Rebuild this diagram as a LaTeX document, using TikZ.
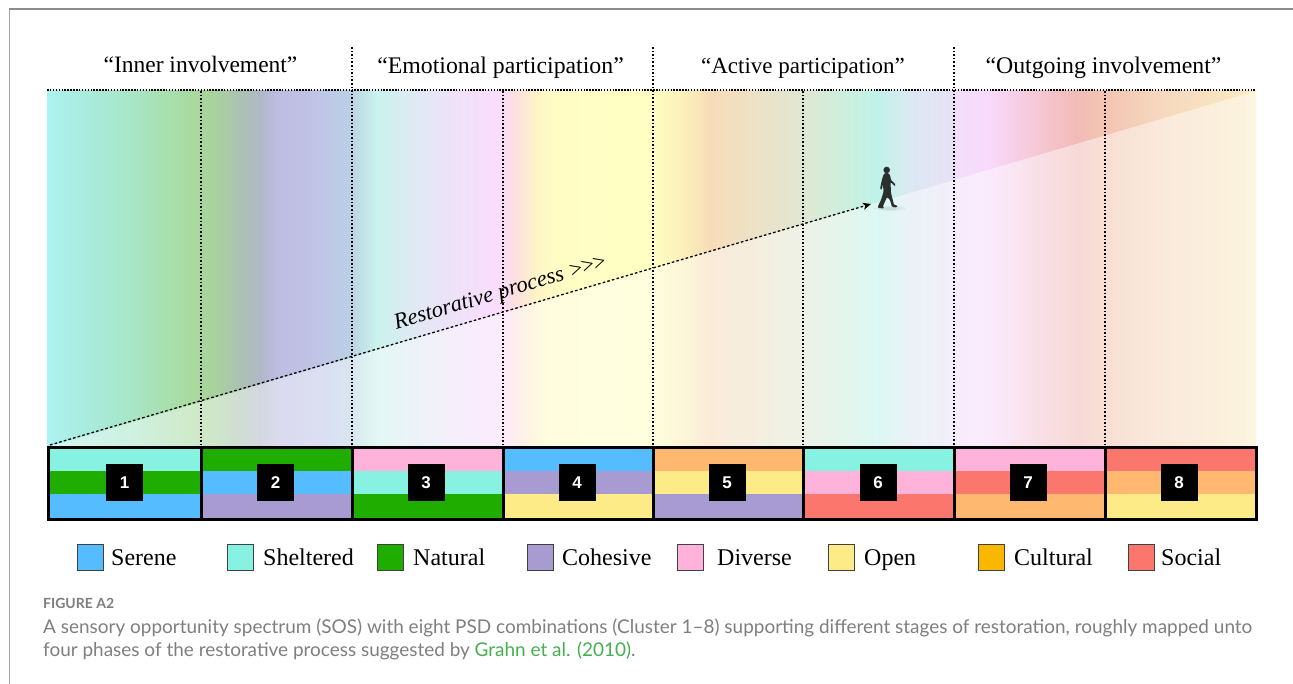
\documentclass[tikz,border=0pt]{standalone}
\usepackage{fontspec}
\setmainfont{Liberation Serif}
\newfontfamily\capfont{Lato}
\newfontfamily\numfont{Liberation Sans}
\usetikzlibrary{arrows.meta}
\definecolor{c01}{HTML}{AEF1F2}\definecolor{c02}{HTML}{A8EDE0}\definecolor{c03}{HTML}{A7E6C9}
\definecolor{c04}{HTML}{A9DB9F}\definecolor{c05}{HTML}{A7D69A}\definecolor{c06}{HTML}{A8D39D}
\definecolor{c07}{HTML}{ACC2B0}\definecolor{c08}{HTML}{B0B8C8}\definecolor{c09}{HTML}{BEBCE2}
\definecolor{c10}{HTML}{C0C4E6}\definecolor{c11}{HTML}{BACFE6}\definecolor{c12}{HTML}{BEE0E6}
\definecolor{c13}{HTML}{CAF2EC}\definecolor{c14}{HTML}{E0E9F4}\definecolor{c15}{HTML}{EFE2F9}
\definecolor{c16}{HTML}{FADCFD}\definecolor{c17}{HTML}{FDDFE0}\definecolor{c18}{HTML}{FEF3C8}
\definecolor{c19}{HTML}{FFFDC4}\definecolor{c20}{HTML}{FFFFC3}\definecolor{c21}{HTML}{FBEDB9}
\definecolor{c22}{HTML}{F8DCB9}\definecolor{c23}{HTML}{E1E7D3}\definecolor{c24}{HTML}{CFEEDC}
\definecolor{c25}{HTML}{BFF3E9}\definecolor{c26}{HTML}{DCE8F2}\definecolor{c27}{HTML}{E6E2F5}
\definecolor{c28}{HTML}{F3DEFB}\definecolor{c29}{HTML}{F8DAFC}\definecolor{c30}{HTML}{F6CCDF}
\definecolor{c31}{HTML}{F2BBB8}\definecolor{c32}{HTML}{F3C4B2}\definecolor{c33}{HTML}{F6D8BE}
\definecolor{c34}{HTML}{F9E8C2}\definecolor{c35}{HTML}{FAEEC8}
\pgfdeclarehorizontalshading{spectrum}{100bp}{
color(0bp)=(c01);color(25bp)=(c01);color(26.36bp)=(c02);color(28.31bp)=(c03);color(30.91bp)=(c04);
color(31.41bp)=(c05);color(31.91bp)=(c06);color(32.9bp)=(c07);color(33.85bp)=(c08);color(34.51bp)=(c09);
color(36.17bp)=(c10);color(37.45bp)=(c11);color(37.94bp)=(c12);color(38.61bp)=(c13);color(40.22bp)=(c14);
color(41.87bp)=(c15);color(43.73bp)=(c16);color(44.35bp)=(c17);color(45.18bp)=(c18);color(46.01bp)=(c19);
color(49.94bp)=(c20);color(51.51bp)=(c21);color(52.38bp)=(c22);color(56.18bp)=(c23);color(57.8bp)=(c24);
color(59.28bp)=(c25);color(60.77bp)=(c26);color(62.26bp)=(c27);color(62.76bp)=(c28);color(63.92bp)=(c29);
color(65.4bp)=(c30);color(67.55bp)=(c31);color(68.71bp)=(c32);color(71.03bp)=(c33);color(74.34bp)=(c34);
color(75bp)=(c35);color(100bp)=(c35)}
\definecolor{serene}{HTML}{55BCFF}
\definecolor{sheltered}{HTML}{88F2E2}
\definecolor{natural}{HTML}{1FAE00}
\definecolor{cohesive}{HTML}{A79BD1}
\definecolor{diverse}{HTML}{FFB2DA}
\definecolor{open}{HTML}{FCEB87}
\definecolor{cultural}{HTML}{F9B700}
\definecolor{orangeband}{HTML}{FFB870}
\definecolor{social}{HTML}{FB766D}
\definecolor{frameline}{HTML}{8C8C8C}
\definecolor{frameleft}{HTML}{A6A6A6}
\definecolor{captext}{HTML}{7F7F7F}
\definecolor{linkgreen}{HTML}{45B04F}
\definecolor{walkerink}{HTML}{2A2F2E}
\tikzset{
  phase/.style={inner sep=0pt, anchor=base},
  dotline/.style={line width=1.3pt, dash pattern=on 1.7pt off 1.9pt},
  dotfine/.style={line width=1.4pt, dash pattern=on 1.5pt off 1.4pt},
  clusterbox/.style={draw=black, line width=3pt, fill=none},
  numbox/.style={fill=black, minimum width=37pt, minimum height=37pt, inner sep=0pt, text=white, font=\numfont\bfseries\fontsize{17}{20}\selectfont},
  swatch/.style={draw=black!75, line width=1pt, minimum width=26pt, minimum height=26pt, inner sep=0pt},
  leglabel/.style={font=\fontsize{24}{28}\selectfont, inner sep=0pt, anchor=base west},
  captxt/.style={font=\capfont\fontsize{18.95}{22}\selectfont, text=captext, inner sep=0pt, anchor=base west},
}
\begin{document}
\begin{tikzpicture}[x=1pt,y=-1pt]
\useasboundingbox (0,0) rectangle (1293,684);
\fill[white] (0,0) rectangle (1293,684);
% frame
\draw[frameleft, line width=1.2pt] (9.5,684) -- (9.5,9);
\draw[frameline, line width=1.2pt] (9,9) -- (1293,9);
% spectrum
\shade[shading=spectrum] (47,91) rectangle (1256,447);
\fill[white, opacity=.45] (48,447) -- (1256,91) -- (1256,447) -- cycle;
% shadow below the walker
\foreach \r/\q in {16/2.6,11/2,7/1.5}{
  \fill[black, opacity=.03] (890,208.5) ellipse ({\r pt} and {\q pt});
}
% cluster stripes
\foreach \xa/\xb/\ca/\cb/\cc/\n in {
  48/201/sheltered/natural/serene/1,
  201/352/natural/serene/cohesive/2,
  352/503/diverse/sheltered/natural/3,
  503/653/serene/cohesive/open/4,
  653/803/orangeband/open/cohesive/5,
  803/954/sheltered/diverse/social/6,
  954/1105/diverse/social/orangeband/7,
  1105/1256/social/orangeband/open/8}{
  \fill[\ca] (\xa,447) rectangle (\xb,471);
  \fill[\cb] (\xa,471) rectangle (\xb,494);
  \fill[\cc] (\xa,494) rectangle (\xb,519);
  \draw[clusterbox] (\xa,447) rectangle (\xb,519);
}
\draw[clusterbox] (48,447) rectangle (1256,519);
\foreach \cx/\n in {124.5/1,275.5/2,426/3,577/4,727/5,878/6,1028/7,1179/8}{
  \node[numbox] (num\n) at (\cx,482.5) {\n};
}
% dotted structure
\coordinate (hl) at (47,90); \coordinate (hr) at (1256,90);
\draw[dotfine] (hl) -- (hr);
\foreach \x/\n in {352/a,653/b,954/c}{
  \coordinate (top\n) at (\x,47); \coordinate (bot\n) at (\x,446);
  \draw[dotline] (top\n) -- (bot\n);
}
\foreach \x/\n in {201/d,503/e,803/f,1105/g}{
  \coordinate (top\n) at (\x,91); \coordinate (bot\n) at (\x,446);
  \draw[dotline] (top\n) -- (bot\n);
}
% restorative arrow
\coordinate (arrowstart) at (50,445);
\coordinate (arrowend) at (871,204);
\draw[line width=1.3pt, dash pattern=on 2.6pt off 2.2pt, -{Stealth[length=8pt,width=7pt,inset=2pt]}] (arrowstart) -- (arrowend);
\node[font=\itshape\fontsize{22.5}{27}\selectfont, rotate=16.4, inner sep=0pt] (proc) at (501,293.5) {Restorative process >\kern-3pt{}>\kern-3pt{}>};
% walker
\fill[walkerink] (886.7,170) circle (3.3pt);
\fill[walkerink, rounded corners=1pt] (885,173) -- (883.3,175) -- (881.4,182) -- (880,189) -- (881.6,190) -- (883,184) -- (883.5,192)
 -- (881,200) -- (878,206) -- (878,208) -- (884,208.5) -- (883,206) -- (887,197) -- (890,200) -- (892,207) -- (897,207.5)
 -- (897.5,205.5) -- (894,205) -- (891,193) -- (890.5,182) -- (895,186.5) -- (895.5,184.5) -- (891,180) -- (890,175) -- (888,173) -- cycle;
% phase titles
\node[phase, font=\fontsize{23.5}{28}\selectfont] (ph1) at (200.5,73) {“Inner involvement”};
\node[phase, font=\fontsize{23.8}{28}\selectfont] (ph2) at (500.5,74) {“Emotional participation”};
\node[phase, font=\fontsize{23}{28}\selectfont] (ph3) at (803,74) {“Active participation”};
\node[phase, font=\fontsize{23.8}{28}\selectfont] (ph4) at (1103.5,74) {“Outgoing involvement”};
% legend
\foreach \x/\lx/\c/\t in {
  90/111/serene/Serene,
  240/263/sheltered/Sheltered,
  390/413/natural/Natural,
  540/562/cohesive/Cohesive,
  690/717/diverse/Diverse,
  841/864/open/Open,
  991/1014/cultural/Cultural,
  1141/1161/social/Social}{
  \node[swatch, fill=\c] (sw\t) at (\x,557) {};
  \node[leglabel] (lab\t) at (\lx,565) {\t};
}
% caption
\node[font=\capfont\bfseries\fontsize{14}{16}\selectfont, text=captext, inner sep=0pt, anchor=base west] (figlabel) at (43,608) {FIGURE A2};
\node[captxt] (capa) at (43,633) {A sensory opportunity spectrum (SOS) with eight PSD combinations (Cluster 1–8) supporting different stages of restoration, roughly mapped unto};
\node[captxt] (capb) at (43,656) {four phases of the restorative process suggested by \textcolor{linkgreen}{Grahn et al. (2010)}.};
\end{tikzpicture}
\end{document}
